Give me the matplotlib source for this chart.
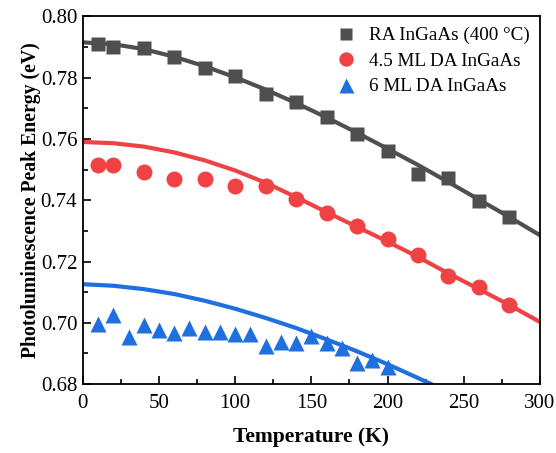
import numpy as np
import matplotlib
matplotlib.use('Agg')
import matplotlib.pyplot as plt
from matplotlib.ticker import MultipleLocator

plt.rcParams['font.family'] = ['Liberation Serif', 'DejaVu Serif']
plt.rcParams['mathtext.fontset'] = 'stix'

# measured PL peak energies (eV)
t_ra = [10, 20, 40, 60, 80, 100, 120, 140, 160, 180, 200, 220, 240, 260, 280]
e_ra = [0.7910, 0.7900, 0.7895, 0.7866, 0.7830, 0.7806, 0.7745, 0.7720, 0.7672, 0.7617,
        0.7562, 0.7487, 0.7472, 0.7398, 0.7346]

t_45 = [10, 20, 40, 60, 80, 100, 120, 140, 160, 180, 200, 220, 240, 260, 280]
e_45 = [0.7515, 0.7515, 0.7492, 0.7470, 0.7470, 0.7447, 0.7447, 0.7404, 0.7359, 0.7316,
        0.7273, 0.7221, 0.7154, 0.7117, 0.7059]

t_6 = [10, 20, 30, 40, 50, 60, 70, 80, 90, 100, 110, 120, 130, 140, 150, 160, 170, 180, 190, 200]
e_6 = [0.6995, 0.7025, 0.6955, 0.6993, 0.6977, 0.6968, 0.6982, 0.6970, 0.6970, 0.6963,
       0.6963, 0.6924, 0.6937, 0.6933, 0.6957, 0.6934, 0.6917, 0.6870, 0.6880, 0.6856]

# fitted curves, every 20 K
t_fit = [0, 20, 40, 60, 80, 100, 120, 140, 160, 180, 200, 220, 240, 260, 280, 300]
fit_ra = [0.7915, 0.7909, 0.7893, 0.7868, 0.7837, 0.7801, 0.7761, 0.7717, 0.7670, 0.7620,
          0.7568, 0.7515, 0.7459, 0.7402, 0.7345, 0.7286]
fit_45 = [0.7590, 0.7586, 0.7575, 0.7556, 0.7530, 0.7497, 0.7457, 0.7410, 0.7361, 0.7313,
          0.7265, 0.7215, 0.7161, 0.7110, 0.7058, 0.7003]
fit_6 = [0.7126, 0.7121, 0.7110, 0.7094, 0.7072, 0.7046, 0.7016, 0.6983, 0.6946, 0.6907,
         0.6865, 0.6820, 0.6774]

c_ra = '#4f4f4f'
c_45 = '#ef4245'
c_6 = '#1f6fdf'

fig = plt.figure(figsize=(5.56, 4.53), dpi=100)
ax = fig.add_axes([0.149, 0.152, 0.822, 0.812])

ax.plot(t_fit, fit_ra, color=c_ra, lw=3)
ax.plot(t_fit, fit_45, color=c_45, lw=3)
ax.plot(t_fit[:len(fit_6)], fit_6, color=c_6, lw=3)

ax.plot(t_ra, e_ra, 's', color=c_ra, ms=10, mec='none', label='RA InGaAs (400 °C)')
ax.plot(t_45, e_45, 'o', color=c_45, ms=11.5, mec='none', label='4.5 ML DA InGaAs')
ax.plot(t_6, e_6, '^', color=c_6, ms=12, mec='none', label='6 ML DA InGaAs')

ax.set_xlim(0, 300)
ax.set_ylim(0.68, 0.80)
ax.xaxis.set_major_locator(MultipleLocator(50))
ax.xaxis.set_minor_locator(MultipleLocator(25))
ax.yaxis.set_major_locator(MultipleLocator(0.02))
ax.yaxis.set_minor_locator(MultipleLocator(0.01))
ax.yaxis.set_major_formatter(plt.FormatStrFormatter('%.2f'))
ax.tick_params(which='both', direction='in', labelsize=15, width=1.2)
ax.tick_params(which='major', length=6)
ax.tick_params(which='minor', length=3.5)
ax.tick_params(axis='x', pad=7)
ax.tick_params(axis='y', pad=4)
for s in ax.spines.values():
    s.set_linewidth(1.3)

ax.set_xlabel('Temperature (K)', fontsize=15.5, fontweight='bold', labelpad=10)
ax.set_ylabel('Photoluminescence Peak Energy (eV)', fontsize=14.2, fontweight='bold', labelpad=0)

ax.legend(loc='upper right', frameon=False, fontsize=13.8, handletextpad=0.55,
          labelspacing=0.42, borderaxespad=0.15, handlelength=1.3, markerscale=0.9)

fig.savefig('out.png', dpi=100)
